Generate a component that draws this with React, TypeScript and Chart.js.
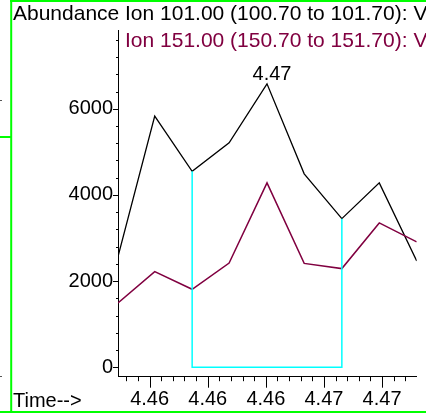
import { useEffect, useRef } from "react";
import { Chart, registerables } from "chart.js";

Chart.register(...registerables);

// ---- data ----
const times = [4.45864, 4.46022, 4.46183, 4.46342, 4.46505, 4.46665, 4.46827, 4.46988, 4.47149];
const ion101 = [2570, 5830, 4550, 5210, 6580, 4490, 3450, 4280, 2470];
const ion151 = [1490, 2220, 1810, 2420, 4280, 2410, 2290, 3350, 2910];
const xMajorTicks = [4.46, 4.4625, 4.465, 4.4675, 4.47];
const xTickLabels = ["4.46", "4.46", "4.46", "4.47", "4.47"];
const yMajorTicks = [0, 2000, 4000, 6000];
const yTickLabels = ["0", "2000", "4000", "6000"];
const peakIndex = 4;
const peakLabel = "4.47";
const baselineFrom = 2;
const baselineTo = 6;
const yAxisTitle = "Abundance";
const xAxisTitle = "Time-->";
const series1Name = "Ion 101.00 (100.70 to 101.70): V";
const series2Name = "Ion 151.00 (150.70 to 151.70): V";

const FONT = '"Liberation Sans", Arial, sans-serif';
const PURPLE = "#800040";
const GREEN = "#00ff00";

const decor = {
  id: "decor",
  afterDraw(chart: any) {
    const ctx: CanvasRenderingContext2D = chart.ctx;
    const xs = chart.scales.x;
    const ys = chart.scales.y;
    const area = chart.chartArea;
    ctx.save();
    ctx.strokeStyle = "#000";
    ctx.lineWidth = 1;
    // x ticks (minor every 0.0005, major every 0.0025)
    for (let k = Math.ceil(xs.min / 0.0005); k * 0.0005 <= xs.max + 1e-9; k++) {
      const px = Math.round(xs.getPixelForValue(k * 0.0005)) + 0.5;
      const major = k % 5 === 0;
      ctx.beginPath();
      ctx.moveTo(px, area.bottom);
      ctx.lineTo(px, area.bottom + (major ? 11 : 4.5));
      ctx.stroke();
    }
    // y ticks (minor every 400, major every 2000)
    for (let v = 0; v <= ys.max; v += 400) {
      const py = Math.round(ys.getPixelForValue(v)) + 0.5;
      const major = v % 2000 === 0;
      ctx.beginPath();
      ctx.moveTo(area.left, py);
      ctx.lineTo(area.left - (major ? 5 : 2), py);
      ctx.stroke();
    }
    // texts
    ctx.fillStyle = "#000";
    ctx.textBaseline = "alphabetic";
    ctx.textAlign = "left";
    ctx.font = `21px ${FONT}`;
    ctx.fillText(yAxisTitle, 13, 20);
    ctx.fillText(series1Name, 125, 20);
    ctx.fillStyle = PURPLE;
    ctx.fillText(series2Name, 125, 47);
    ctx.fillStyle = "#000";
    ctx.font = `20px ${FONT}`;
    ctx.fillText(xAxisTitle, 13, 406.5);
    // peak label
    const ppx = xs.getPixelForValue(times[peakIndex]);
    const ppy = ys.getPixelForValue(ion101[peakIndex]);
    ctx.textAlign = "center";
    ctx.fillText(peakLabel, ppx + 5, ppy - 4);
    // green frame
    ctx.strokeStyle = GREEN;
    ctx.lineWidth = 2;
    ctx.beginPath();
    ctx.moveTo(11.2, 0);
    ctx.lineTo(11.2, 413);
    ctx.moveTo(10, 1);
    ctx.lineTo(426, 1);
    ctx.moveTo(0, 412);
    ctx.lineTo(426, 412);
    ctx.moveTo(0, 137);
    ctx.lineTo(11, 137);
    ctx.stroke();
    ctx.strokeStyle = "#555";
    ctx.lineWidth = 1;
    ctx.beginPath();
    ctx.moveTo(0, 100.5);
    ctx.lineTo(2, 100.5);
    ctx.moveTo(0, 376.5);
    ctx.lineTo(2, 376.5);
    ctx.stroke();
    ctx.restore();
  },
};

export default function App() {
  const ref = useRef<HTMLCanvasElement | null>(null);
  useEffect(() => {
    if (!ref.current) return;
    const chart = new Chart(ref.current, {
      type: "line",
      data: {
        datasets: [
          {
            data: [
              { x: times[baselineFrom], y: ion101[baselineFrom] },
              { x: times[baselineFrom], y: 0 },
              { x: times[baselineTo], y: 0 },
              { x: times[baselineTo], y: ion101[baselineTo] },
            ],
            borderColor: "#00ffff",
            borderWidth: 1.5,
          },
          {
            data: times.map((t, i) => ({ x: t, y: ion151[i] })),
            borderColor: PURPLE,
            borderWidth: 1.5,
          },
          {
            data: times.map((t, i) => ({ x: t, y: ion101[i] })),
            borderColor: "#000",
            borderWidth: 1.3,
          },
        ],
      },
      options: {
        animation: false,
        responsive: false,
        events: [],
        layout: { padding: { left: 0, right: 9.3, top: 30, bottom: 0 } },
        elements: { point: { radius: 0 }, line: { tension: 0 } },
        plugins: { legend: { display: false }, tooltip: { enabled: false } },
        scales: {
          x: {
            type: "linear",
            min: times[0],
            max: times[times.length - 1],
            grid: { display: false, drawTicks: false },
            border: { display: true, color: "#000", width: 1 },
            ticks: {
              font: { family: FONT, size: 20 },
              color: "#000",
              padding: 11,
              maxRotation: 0,
              autoSkip: false,
              callback: (v: any) => {
                const i = xMajorTicks.findIndex((m) => Math.abs(m - Number(v)) < 1e-7);
                return i >= 0 ? xTickLabels[i] : "";
              },
            },
            afterBuildTicks: (s: any) => {
              s.ticks = xMajorTicks.map((v) => ({ value: v }));
            },
            afterFit: (s: any) => {
              s.height = 36.3;
            },
          },
          y: {
            type: "linear",
            min: -220,
            max: 7830,
            grid: { display: false, drawTicks: false },
            border: { display: true, color: "#000", width: 1 },
            ticks: {
              font: { family: FONT, size: 20 },
              color: "#000",
              padding: 5,
              autoSkip: false,
              callback: (v: any) => {
                const i = yMajorTicks.indexOf(Number(v));
                return i >= 0 ? yTickLabels[i] : "";
              },
            },
            afterBuildTicks: (s: any) => {
              s.ticks = yMajorTicks.map((v) => ({ value: v }));
            },
            afterFit: (s: any) => {
              s.width = 118;
            },
          },
        },
      },
      plugins: [decor],
    });
    return () => chart.destroy();
  }, []);
  return (
    <div style={{ position: "absolute", left: 0, top: 0, width: 426, height: 413, background: "#fff" }}>
      <canvas ref={ref} width={426} height={413} />
    </div>
  );
}
